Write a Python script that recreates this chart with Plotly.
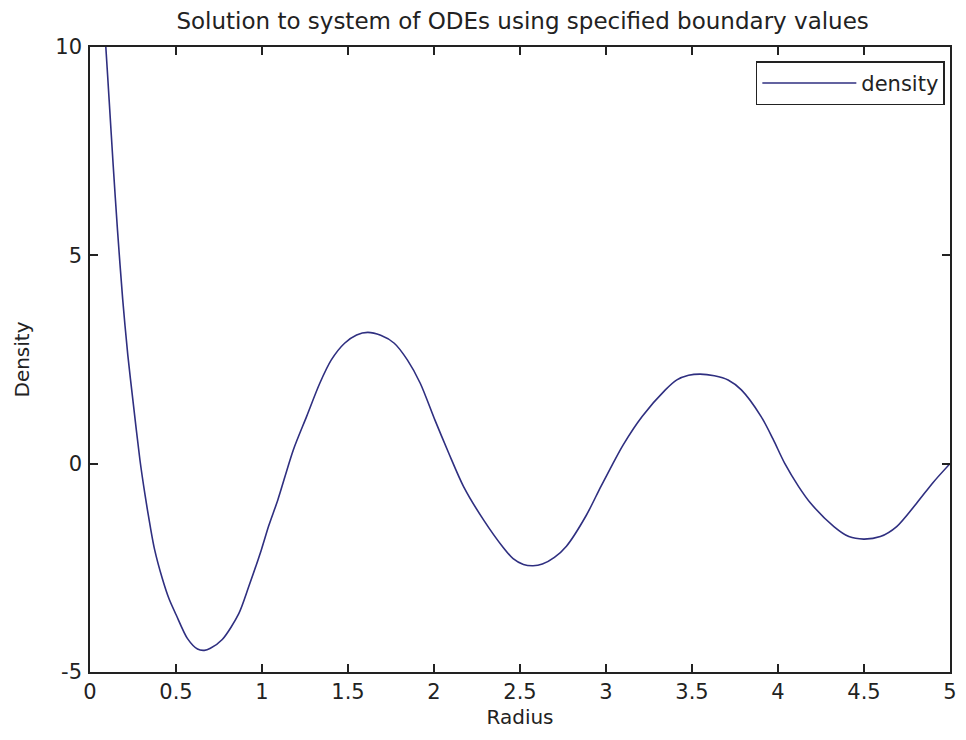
import plotly.graph_objects as go

# Sampled solution of the boundary value problem: radius vs density
radius = [0.075, 0.092, 0.111, 0.135, 0.160, 0.190, 0.220, 0.250, 0.290, 0.320,
          0.350, 0.375, 0.420, 0.460, 0.500, 0.567, 0.625, 0.665, 0.700, 0.769,
          0.865, 0.923, 0.996, 1.040, 1.092, 1.182, 1.259, 1.336, 1.403, 1.480,
          1.550, 1.615, 1.690, 1.769, 1.845, 1.920, 2.005, 2.086, 2.172, 2.288,
          2.400, 2.460, 2.520, 2.576, 2.630, 2.700, 2.770, 2.884, 2.970, 3.040,
          3.100, 3.210, 3.345, 3.412, 3.480, 3.547, 3.630, 3.710, 3.787, 3.902,
          3.970, 4.040, 4.120, 4.190, 4.325, 4.412, 4.498, 4.595, 4.690, 4.806,
          4.902, 5.000]
density = [11.0, 10.0, 8.75, 7.15, 5.60, 3.95, 2.60, 1.50, 0.10, -0.75,
           -1.50, -2.05, -2.75, -3.25, -3.62, -4.20, -4.45, -4.48, -4.43, -4.22,
           -3.60, -2.95, -2.07, -1.48, -0.87, 0.33, 1.13, 1.93, 2.49, 2.89,
           3.09, 3.15, 3.08, 2.89, 2.49, 1.93, 1.05, 0.25, -0.55, -1.35,
           -2.00, -2.28, -2.42, -2.45, -2.41, -2.25, -1.98, -1.25, -0.55, 0.0,
           0.45, 1.13, 1.77, 2.01, 2.12, 2.15, 2.11, 2.01, 1.77, 1.13,
           0.60, 0.0, -0.55, -0.95, -1.51, -1.75, -1.81, -1.75, -1.51, -0.95,
           -0.45, 0.0]

x_ticks = [0, 0.5, 1, 1.5, 2, 2.5, 3, 3.5, 4, 4.5, 5]
x_tick_labels = ["0", "0.5", "1", "1.5", "2", "2.5", "3", "3.5", "4", "4.5", "5"]
y_ticks = [-5, 0, 5, 10]
y_tick_labels = ["-5", "0", "5", "10"]

FONT = "DejaVu Sans"
TXT = "#222222"

fig = go.Figure()
fig.add_trace(go.Scatter(
    x=radius, y=density, mode="lines", name="density",
    line=dict(color="#2f2f80", width=1.6, shape="spline", smoothing=0.8),
))

axis_common = dict(
    showgrid=False, zeroline=False, showline=True, linecolor="#222222",
    linewidth=1.5, mirror="ticks", ticks="inside", ticklen=8, tickwidth=1.5,
    tickcolor="#222222", tickfont=dict(family=FONT, size=21, color=TXT),
)

fig.update_layout(
    width=966, height=740,
    margin=dict(l=90, r=9, t=47, b=68),
    paper_bgcolor="white", plot_bgcolor="white",
    title=dict(text="Solution to system of ODEs using specified boundary values",
               x=0.541, xanchor="center", y=0.972, yanchor="middle",
               font=dict(family=FONT, size=23, color=TXT)),
    xaxis=dict(range=[0, 5], tickvals=x_ticks, ticktext=x_tick_labels,
               title=dict(text="Radius", standoff=7,
                          font=dict(family=FONT, size=20, color=TXT)),
               **axis_common),
    yaxis=dict(range=[-5, 10], tickvals=y_ticks, ticktext=y_tick_labels,
               ticklabelstandoff=2,
               title=dict(text="Density", standoff=20,
                          font=dict(family=FONT, size=20, color=TXT)),
               **axis_common),
    legend=dict(x=0.994, y=0.977, xanchor="right", yanchor="top",
                bgcolor="white", bordercolor="#222222", borderwidth=1.5,
                itemwidth=94, font=dict(family=FONT, size=21, color=TXT)),
    showlegend=True,
)

fig.write_html("out.html")
